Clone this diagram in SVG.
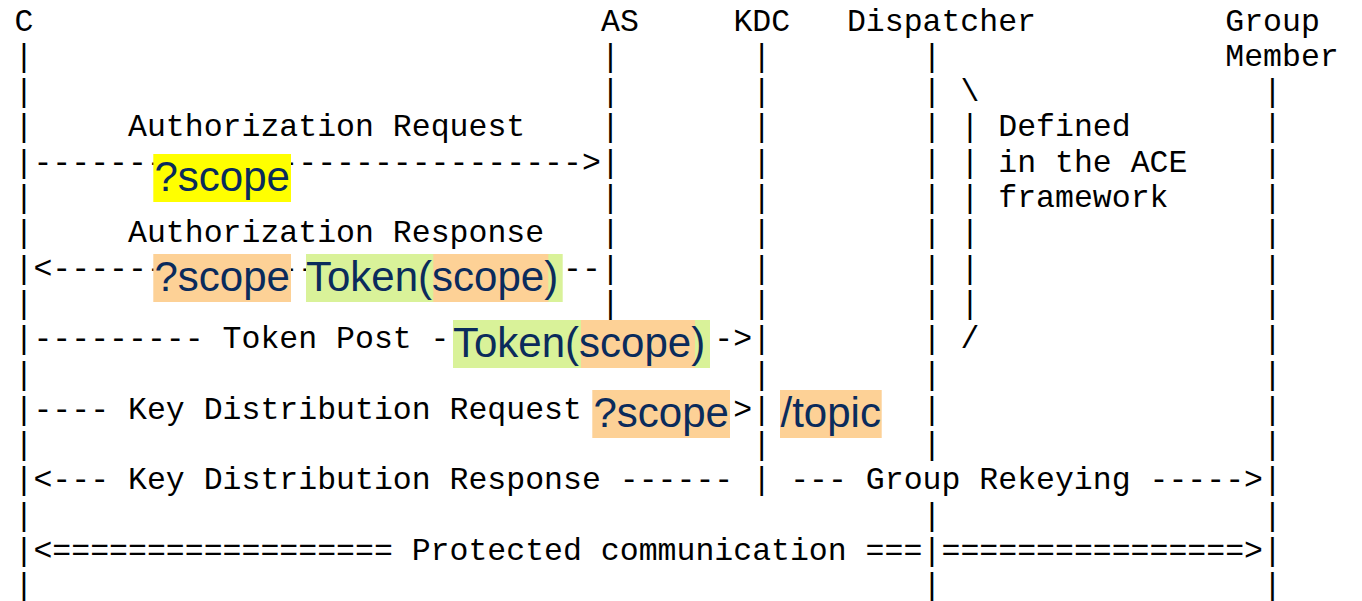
<svg xmlns="http://www.w3.org/2000/svg" width="1362" height="601" viewBox="0 0 1362 601">
  <style>
    /* monospace grid: 0.6em advance = 18.918px per column, 35.3px per row */
    .m { font-family: "Courier New", Courier, "Nimbus Mono PS", "Liberation Mono", monospace; font-size: 31.53px; fill: #000; white-space: pre; }
    .h { font-family: "Liberation Sans", Arial, Helvetica, sans-serif; font-size: 42px; fill: #0a2b5c; white-space: pre; }
    .yel { fill: #ffff00; }
    .org { fill: #fdd196; }
    .grn { fill: #d9f299; }
  </style>
  <rect width="1362" height="601" fill="#fff"/>

  <!-- participants: header label + lifeline -->
  <g id="C">
    <text class="m" x="14.54" y="30.5">C</text>
    <text class="m">
      <tspan x="14.54" y="65.8">|</tspan><tspan x="14.54" y="101.1">|</tspan><tspan x="14.54" y="136.4">|</tspan><tspan x="14.54" y="171.7">|</tspan><tspan x="14.54" y="207.0">|</tspan><tspan x="14.54" y="242.3">|</tspan><tspan x="14.54" y="277.6">|</tspan><tspan x="14.54" y="312.9">|</tspan><tspan x="14.54" y="348.2">|</tspan><tspan x="14.54" y="383.5">|</tspan><tspan x="14.54" y="418.8">|</tspan><tspan x="14.54" y="454.1">|</tspan><tspan x="14.54" y="489.4">|</tspan><tspan x="14.54" y="524.7">|</tspan><tspan x="14.54" y="560.0">|</tspan><tspan x="14.54" y="595.3">|</tspan>
    </text>
  </g>
  <g id="AS">
    <text class="m" x="601.0" y="30.5">AS</text>
    <text class="m">
      <tspan x="601.0" y="65.8">|</tspan><tspan x="601.0" y="101.1">|</tspan><tspan x="601.0" y="136.4">|</tspan><tspan x="601.0" y="171.7">|</tspan><tspan x="601.0" y="207.0">|</tspan><tspan x="601.0" y="242.3">|</tspan><tspan x="601.0" y="277.6">|</tspan><tspan x="601.0" y="312.9">|</tspan>
    </text>
  </g>
  <g id="KDC">
    <text class="m" x="733.4" y="30.5">KDC</text>
    <text class="m">
      <tspan x="752.3" y="65.8">|</tspan><tspan x="752.3" y="101.1">|</tspan><tspan x="752.3" y="136.4">|</tspan><tspan x="752.3" y="171.7">|</tspan><tspan x="752.3" y="207.0">|</tspan><tspan x="752.3" y="242.3">|</tspan><tspan x="752.3" y="277.6">|</tspan><tspan x="752.3" y="312.9">|</tspan><tspan x="752.3" y="348.2">|</tspan><tspan x="752.3" y="383.5">|</tspan><tspan x="752.3" y="418.8">|</tspan><tspan x="752.3" y="454.1">|</tspan><tspan x="752.3" y="489.4">|</tspan>
    </text>
  </g>
  <g id="Dispatcher">
    <text class="m" x="846.9" y="30.5">Dispatcher</text>
    <text class="m">
      <tspan x="922.6" y="65.8">|</tspan><tspan x="922.6" y="101.1">|</tspan><tspan x="922.6" y="136.4">|</tspan><tspan x="922.6" y="171.7">|</tspan><tspan x="922.6" y="207.0">|</tspan><tspan x="922.6" y="242.3">|</tspan><tspan x="922.6" y="277.6">|</tspan><tspan x="922.6" y="312.9">|</tspan><tspan x="922.6" y="348.2">|</tspan><tspan x="922.6" y="383.5">|</tspan><tspan x="922.6" y="418.8">|</tspan><tspan x="922.6" y="454.1">|</tspan><tspan x="922.6" y="524.7">|</tspan><tspan x="922.6" y="560.0">|</tspan><tspan x="922.6" y="595.3">|</tspan>
    </text>
  </g>
  <g id="GroupMember">
    <text class="m"><tspan x="1225.3" y="30.5">Group</tspan><tspan x="1225.3" y="65.8">Member</tspan></text>
    <text class="m">
      <tspan x="1263.1" y="101.1">|</tspan><tspan x="1263.1" y="136.4">|</tspan><tspan x="1263.1" y="171.7">|</tspan><tspan x="1263.1" y="207.0">|</tspan><tspan x="1263.1" y="242.3">|</tspan><tspan x="1263.1" y="277.6">|</tspan><tspan x="1263.1" y="312.9">|</tspan><tspan x="1263.1" y="348.2">|</tspan><tspan x="1263.1" y="383.5">|</tspan><tspan x="1263.1" y="418.8">|</tspan><tspan x="1263.1" y="454.1">|</tspan><tspan x="1263.1" y="489.4">|</tspan><tspan x="1263.1" y="524.7">|</tspan><tspan x="1263.1" y="560.0">|</tspan><tspan x="1263.1" y="595.3">|</tspan>
    </text>
  </g>

  <!-- brace note beside the Dispatcher lifeline -->
  <g id="ace-note">
    <text class="m">
      <tspan x="960.4" y="101.1">\</tspan><tspan x="960.4" y="136.4">|</tspan><tspan x="960.4" y="171.7">|</tspan><tspan x="960.4" y="207.0">|</tspan><tspan x="960.4" y="242.3">|</tspan><tspan x="960.4" y="277.6">|</tspan><tspan x="960.4" y="312.9">|</tspan><tspan x="960.4" y="348.2">/</tspan>
    </text>
    <text class="m"><tspan x="998.3" y="136.4">Defined</tspan><tspan x="998.3" y="171.7">in the ACE</tspan><tspan x="998.3" y="207.0">framework</tspan></text>
  </g>

  <!-- messages -->
  <g id="connectors">
    <text class="m" x="128.05" y="136.4">Authorization Request</text>
    <text class="m" x="33.46" y="171.7">-----------------------------&gt;</text>
    <text class="m" x="128.05" y="242.3">Authorization Response</text>
    <text class="m" x="33.46" y="277.6">&lt;-----------------------------</text>
    <text class="m" x="33.46" y="348.2">--------- Token Post ----------------&gt;</text>
    <text class="m" x="33.46" y="418.8">---- Key Distribution Request -------&gt;</text>
    <text class="m" x="33.46" y="489.4">&lt;--- Key Distribution Response ------</text>
    <text class="m" x="790.2" y="489.4">--- Group Rekeying -----&gt;</text>
    <text class="m" x="33.46" y="560.0">&lt;================== Protected communication ===</text>
    <text class="m" x="941.5" y="560.0">================&gt;</text>
  </g>

  <!-- highlighted parameters on the messages -->
  <g id="param-auth-request">
    <rect class="yel" x="153.3" y="154" width="137.7" height="48"/>
    <text class="h" x="154.5" y="191">?scope</text>
  </g>
  <g id="param-auth-response">
    <rect class="org" x="153.3" y="254" width="137.7" height="48"/>
    <text class="h" x="154.5" y="291">?scope</text>
    <rect class="grn" x="306" y="254" width="256.7" height="48"/>
    <rect class="org" x="433.3" y="254" width="115" height="48"/>
    <text class="h" x="306" y="291">Token(scope)</text>
  </g>
  <g id="param-token-post">
    <rect class="grn" x="453" y="320" width="257" height="48"/>
    <rect class="org" x="581" y="320" width="114" height="48"/>
    <text class="h" x="453" y="357">Token(scope)</text>
  </g>
  <g id="param-key-request">
    <rect class="org" x="592.3" y="390" width="137.7" height="48"/>
    <text class="h" x="593.5" y="427">?scope</text>
    <rect class="org" x="780" y="390" width="101.7" height="48"/>
    <text class="h" x="780.5" y="427">/topic</text>
  </g>
</svg>
